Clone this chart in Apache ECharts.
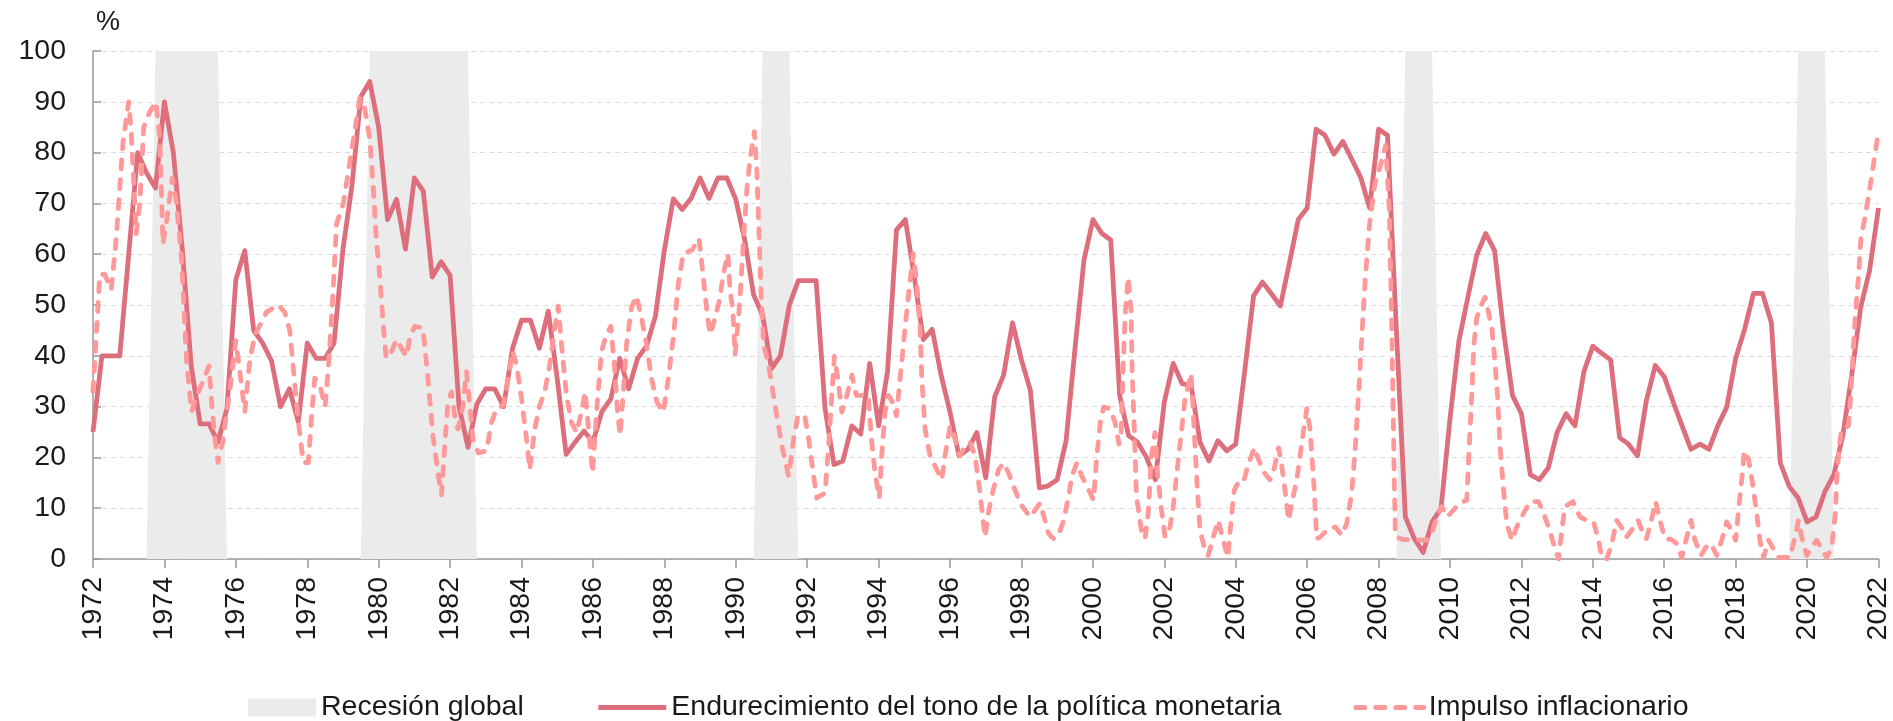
<!DOCTYPE html>
<html lang="es">
<head>
    <meta charset="UTF-8">
    <title>Endurecimiento de la política monetaria e impulso inflacionario</title>
    <script src="https://cdn.jsdelivr.net/npm/echarts@6.0.0/dist/echarts.min.js"></script>
    <style>
        html, body { margin: 0; padding: 0; background: #fff; }
        #chart { width: 1893px; height: 721px; }
    </style>
</head>
<body>
<div id="chart"></div>
<script>
// Trimestres 1972T1 - 2022T1
const quarters = [];
for (let y = 1972; y <= 2022; y += 0.25) quarters.push(y);

// Endurecimiento del tono de la política monetaria (trimestral, %)
const tono = [
    25, 40, 40, 40,
    60, 80, 76, 73,
    90, 80, 61, 38,
    26.6, 26.6, 23, 29.6,
    55, 60.7, 45, 42.5,
    39, 30, 33.5, 27,
    42.5, 39.5, 39.5, 42.5,
    61, 73.4, 91, 94,
    85, 66.8, 70.8, 61,
    75, 72.4, 55.5, 58.5,
    55.8, 30, 22, 30.5,
    33.5, 33.5, 30, 41.5,
    47, 47, 41.5, 48.8,
    35.5, 20.6, 23, 25.2,
    23, 29, 31.5, 39.5,
    33.5, 39.5, 41.9, 47.8,
    60.8, 70.9, 68.8, 71,
    75, 71, 75, 75,
    70.8, 62.8, 52, 48,
    37.5, 40, 50, 54.8,
    54.8, 54.8, 29.6, 18.6,
    19.3, 26.2, 24.6, 38.5,
    26.2, 36.9, 64.8, 66.8,
    55.5, 43.2, 45.2, 36.2,
    28.9, 20.3, 21.6, 24.9,
    16, 31.9, 36.2, 46.5,
    39.2, 33.2, 14, 14.4,
    15.6, 23.3, 41.5, 58.8,
    66.8, 64.1, 62.8, 32.2,
    24.3, 23, 20, 15.6,
    30.9, 38.5, 34.5, 34.2,
    23, 19.3, 23.3, 21.3,
    22.6, 36.9, 51.8, 54.5,
    52.2, 49.8, 58.1, 66.8,
    69.1, 84.6, 83.4, 79.7,
    82.2, 78.7, 75.1, 69.1,
    84.6, 83.4, 45, 8.3,
    4, 1.3, 7.3, 10,
    27.6, 42.9, 51.5, 59.8,
    64.1, 60.7, 44.9, 32.2,
    28.6, 16.6, 15.6, 17.9,
    24.9, 28.6, 26.2, 36.9,
    41.9, 40.5, 39.2, 23.9,
    22.6, 20.3, 31.2, 38.1,
    35.9, 30.9, 26.2, 21.6,
    22.6, 21.6, 26.2, 29.9,
    39.5, 45.2, 52.3, 52.3,
    46.5, 18.9, 14.3, 12,
    7.3, 8.3, 13.3, 16.6,
    24.3, 36.2, 49.5, 56.8,
    69.1
];

// Impulso inflacionario (fechas y valores, %)
const inflYears = [
    1972.0, 1972.19, 1972.33, 1972.51, 1972.65, 1972.84, 1973.0, 1973.07, 1973.21, 1973.31,
    1973.42, 1973.59, 1973.76, 1973.87, 1973.96, 1974.07, 1974.22, 1974.34, 1974.48, 1974.62,
    1974.76, 1974.9, 1975.08, 1975.25, 1975.32, 1975.41, 1975.5, 1975.63, 1975.83, 1976.0,
    1976.11, 1976.25, 1976.39, 1976.53, 1976.86, 1977.19, 1977.37, 1977.51, 1977.61, 1977.75,
    1977.89, 1978.03, 1978.12, 1978.21, 1978.36, 1978.5, 1978.59, 1978.71, 1978.82, 1979.01,
    1979.28, 1979.47, 1979.61, 1979.75, 1979.84, 1979.93, 1980.03, 1980.12, 1980.21, 1980.36,
    1980.5, 1980.64, 1980.78, 1980.87, 1981.01, 1981.24, 1981.38, 1981.52, 1981.66, 1981.76,
    1981.85, 1981.94, 1982.04, 1982.13, 1982.22, 1982.36, 1982.46, 1982.55, 1982.64, 1982.79,
    1983.02, 1983.16, 1983.3, 1983.49, 1983.63, 1983.75, 1983.86, 1984.0, 1984.14, 1984.23,
    1984.37, 1984.51, 1984.65, 1984.79, 1984.93, 1985.03, 1985.12, 1985.26, 1985.4, 1985.54,
    1985.68, 1985.78, 1985.87, 1985.99, 1986.1, 1986.24, 1986.38, 1986.5, 1986.6, 1986.69,
    1986.76, 1986.85, 1986.94, 1987.08, 1987.22, 1987.36, 1987.5, 1987.64, 1987.79, 1987.97,
    1988.11, 1988.25, 1988.39, 1988.53, 1988.77, 1988.97, 1989.09, 1989.19, 1989.28, 1989.42,
    1989.56, 1989.65, 1989.78, 1989.84, 1989.92, 1989.98, 1990.06, 1990.12, 1990.21, 1990.31,
    1990.4, 1990.52, 1990.59, 1990.64, 1990.71, 1990.78, 1990.92, 1991.1, 1991.29, 1991.48,
    1991.62, 1991.74, 1991.93, 1992.04, 1992.18, 1992.27, 1992.5, 1992.6, 1992.69, 1992.76,
    1992.86, 1992.97, 1993.11, 1993.25, 1993.38, 1993.57, 1993.71, 1993.8, 1993.9, 1994.02,
    1994.08, 1994.18, 1994.27, 1994.39, 1994.5, 1994.6, 1994.74, 1994.86, 1994.97, 1995.07,
    1995.16, 1995.21, 1995.3, 1995.44, 1995.63, 1995.77, 1995.86, 1996.0, 1996.14, 1996.28,
    1996.42, 1996.56, 1996.7, 1996.84, 1996.98, 1997.07, 1997.21, 1997.36, 1997.5, 1997.64,
    1997.78, 1997.96, 1998.24, 1998.38, 1998.52, 1998.66, 1998.76, 1998.9, 1999.04, 1999.18,
    1999.32, 1999.41, 1999.55, 1999.69, 1999.83, 2000.02, 2000.11, 2000.21, 2000.3, 2000.48,
    2000.62, 2000.73, 2000.79, 2000.85, 2000.91, 2000.99, 2001.07, 2001.1, 2001.16, 2001.22,
    2001.36, 2001.46, 2001.55, 2001.64, 2001.74, 2001.81, 2001.91, 2002.02, 2002.16, 2002.25,
    2002.35, 2002.49, 2002.58, 2002.67, 2002.75, 2002.81, 2002.91, 2003.0, 2003.12, 2003.23,
    2003.37, 2003.51, 2003.65, 2003.78, 2003.87, 2003.96, 2004.07, 2004.21, 2004.34, 2004.52,
    2004.64, 2004.81, 2004.96, 2005.08, 2005.2, 2005.29, 2005.38, 2005.48, 2005.57, 2005.71,
    2005.85, 2005.99, 2006.08, 2006.18, 2006.27, 2006.36, 2006.6, 2006.79, 2006.97, 2007.11,
    2007.25, 2007.35, 2007.44, 2007.53, 2007.63, 2007.75, 2007.9, 2008.05, 2008.2, 2008.3,
    2008.36, 2008.41, 2008.44, 2008.47, 2008.5, 2008.69, 2008.97, 2009.35, 2009.49, 2009.63,
    2009.77, 2009.93, 2010.09, 2010.28, 2010.47, 2010.54, 2010.61, 2010.67, 2010.75, 2010.89,
    2010.98, 2011.07, 2011.17, 2011.26, 2011.33, 2011.4, 2011.5, 2011.59, 2011.73, 2011.87,
    2012.06, 2012.24, 2012.48, 2012.62, 2012.76, 2012.9, 2013.04, 2013.13, 2013.22, 2013.44,
    2013.64, 2013.83, 2014.02, 2014.16, 2014.25, 2014.39, 2014.53, 2014.67, 2014.8, 2014.94,
    2015.08, 2015.27, 2015.41, 2015.5, 2015.64, 2015.76, 2015.88, 2016.02, 2016.21, 2016.35,
    2016.49, 2016.63, 2016.75, 2016.86, 2017.03, 2017.16, 2017.31, 2017.47, 2017.61, 2017.75,
    2017.89, 2018.0, 2018.09, 2018.17, 2018.24, 2018.36, 2018.47, 2018.59, 2018.68, 2018.78,
    2018.92, 2019.06, 2019.2, 2019.52, 2019.66, 2019.76, 2019.85, 2019.99, 2020.13, 2020.27,
    2020.41, 2020.55, 2020.69, 2020.79, 2020.83, 2020.9, 2020.97, 2021.16, 2021.23, 2021.3,
    2021.36, 2021.44, 2021.51, 2021.61, 2021.72, 2021.81, 2021.91, 2022.0
];
const inflValues = [
    33, 56, 56, 53, 63, 82, 90, 84, 64, 70,
    85, 88, 90, 83, 62, 67, 75, 70, 59, 39,
    29, 32, 35, 38, 31, 24, 19, 23, 33, 43,
    37, 29, 39, 44, 48.6, 50, 48.6, 45, 37.5, 27,
    19, 19, 28, 35.6, 34, 30, 37.5, 51, 66, 70,
    82, 90.7, 88.7, 82.7, 74, 63.5, 55.5, 46.8, 39.5, 40.9,
    43.2, 41.5, 39.9, 43.5, 45.8, 45.5, 35.5, 24.3, 17, 12.6,
    22.3, 30.9, 32.9, 28.2, 25.6, 30.2, 36.9, 30.2, 23.6, 20.9,
    21.3, 26.9, 29.6, 30.2, 35.5, 40.9, 38.2, 31.6, 23.6, 17.6,
    25.6, 30.2, 32.9, 38.2, 45.5, 49.8, 42.2, 32.2, 26.9, 24.9,
    28.9, 32.9, 26.2, 16.9, 28.9, 40.9, 44.2, 45.8, 38.2, 28.9,
    24.3, 32.9, 42.2, 49.5, 51.8, 47.5, 42.2, 35.5, 30.9, 28.9,
    35.5, 43.5, 54.2, 60.1, 60.8, 63.1, 55.5, 48.8, 44.2, 47.5,
    51.5, 56.1, 60.1, 52.8, 48.8, 40.2, 46.2, 51.5, 62.1, 72.8,
    78.7, 84.1, 76.7, 66.1, 52.2, 42.2, 38.2, 30.2, 22.3, 16.3,
    23.6, 28.2, 28.2, 23.6, 16.3, 12, 13, 22.3, 32.2, 39.9,
    35.5, 28.9, 32.2, 36.2, 32.2, 32.2, 32.2, 23.6, 16.9, 12,
    19.6, 28.9, 32.2, 30.9, 28.2, 35.5, 45.5, 53.5, 60.1, 54.2,
    45.5, 35.5, 25.6, 20.3, 17.6, 15.6, 20.3, 26.2, 23.6, 20.3,
    22.3, 22.9, 20.3, 13, 4.3, 9, 13.6, 17.6, 18.9, 16.9,
    14.3, 11, 8.3, 9.6, 11, 7.6, 5, 4, 4.7, 7.6,
    12.3, 16.3, 18.9, 16.3, 14.3, 11.6, 20.3, 26.9, 29.9, 29.6,
    26.9, 22.6, 24.9, 38.2, 48.8, 55.5, 48.8, 36.9, 25.6, 12.3,
    5.6, 4, 9, 20.3, 24.9, 16.9, 10.3, 4.3, 6.3, 10.3,
    16.9, 25.6, 31.6, 34.2, 36.5, 28.9, 15.6, 5.6, 2.3, 0.7,
    4.3, 7.6, 3.7, 0.3, 7.6, 13.6, 15, 15, 18.3, 21.9,
    19.6, 16.9, 15.6, 17.9, 21.9, 18.3, 13.6, 7.6, 11, 15.6,
    22.9, 29.6, 25.6, 15.6, 4, 4.3, 6, 6.3, 4.7, 7,
    13, 22.3, 32.2, 43.5, 55.5, 66, 74, 77.4, 81.4, 68.8,
    48.8, 28.9, 15.6, 5, 4.3, 3.8, 3.8, 3.7, 5, 8.3,
    10.3, 8.3, 9.6, 11, 11.6, 22.3, 32.2, 42.2, 47.5, 50.2,
    51.5, 48.8, 45.5, 38.9, 32.2, 22.3, 13.6, 7, 3.7, 6.3,
    9, 11.3, 11.3, 9, 6.3, 3, 0, 5.6, 10.3, 11.3,
    8.3, 7.6, 7.3, 3.7, 0.3, 0, 3, 7.6, 6.3, 4.3,
    5.6, 7.6, 5, 4, 7.6, 11.3, 7.6, 4, 3.8, 3,
    0.3, 4.3, 7.6, 3.7, 0.7, 2.3, 3, 0.7, 3.7, 7.3,
    5.6, 3.7, 10.3, 15.6, 21.3, 19.6, 15, 9, 3.7, 0.3,
    3.7, 2, 0.3, 0.3, 4.3, 7.6, 4.3, 0.7, 2.3, 3.7,
    2, 0.3, 2.3, 9, 15.6, 22.3, 25.6, 26.2, 32.9, 42.2,
    48.8, 55.5, 63.5, 66.8, 71.4, 75.4, 80, 84.2
];

// Recesiones globales: primer y último trimestre
const recStart = [1973.75, 1979.75, 1990.75, 2008.75, 2019.75];
const recEnd = [1975.5, 1982.5, 1991.5, 2009.5, 2020.5];

const recData = [];
recStart.forEach((s, i) => {
    recData.push([s - 0.25, 0], [s, 100], [recEnd[i], 100], [recEnd[i] + 0.25, 0]);
});

const tonoData = quarters.map((q, i) => [q, tono[i]]);
const inflData = inflYears.map((y, i) => [y, inflValues[i]]);

const FONT = "'Liberation Sans', Arial, sans-serif";
const TXT = '#1a1a1a';
const SOLID = '#DD6E7B';
const DASHED = '#FF9999';
const GRAY = '#EBEBEB';
const DASH = [9, 11];

const chart = echarts.init(document.getElementById('chart'));
chart.setOption({
    animation: false,
    textStyle: { fontFamily: FONT, color: TXT },
    title: {
        text: '%',
        left: 96,
        top: 9,
        padding: 0,
        textStyle: { fontFamily: FONT, fontSize: 27, fontWeight: 'normal', color: TXT }
    },
    grid: { left: 93, right: 13, top: 51, bottom: 162 },
    legend: {
        left: 243,
        top: 688,
        itemWidth: 68,
        itemHeight: 18,
        itemGap: 72,
        textStyle: { fontFamily: FONT, fontSize: 28.5, color: TXT },
        data: [
            { name: 'Recesión global', icon: 'rect', itemStyle: { color: GRAY, opacity: 1 } },
            {
                name: 'Endurecimiento del tono de la política monetaria',
                itemStyle: { opacity: 0 },
                lineStyle: { color: SOLID, width: 5, type: 'solid' }
            },
            {
                name: 'Impulso inflacionario',
                itemStyle: { opacity: 0 },
                lineStyle: { color: DASHED, width: 5, type: DASH, cap: 'round' }
            }
        ]
    },
    xAxis: {
        type: 'value',
        min: 1972,
        max: 2022,
        interval: 2,
        splitLine: { show: false },
        axisLine: { lineStyle: { color: '#9a9a9a', width: 1.5 } },
        axisTick: { length: 9, lineStyle: { color: '#9a9a9a', width: 1.5 } },
        axisLabel: {
            rotate: 90,
            margin: 18,
            fontSize: 28.5,
            fontFamily: FONT,
            color: TXT,
            formatter: v => String(v)
        }
    },
    yAxis: {
        type: 'value',
        min: 0,
        max: 100,
        interval: 10,
        axisLine: { show: true, lineStyle: { color: '#9a9a9a', width: 1.5 } },
        axisTick: { show: true, inside: true, length: 8, lineStyle: { color: '#9a9a9a', width: 1.5 } },
        axisLabel: { margin: 27, fontSize: 28.5, fontFamily: FONT, color: TXT },
        splitLine: { lineStyle: { color: '#dcdcdc', type: [5, 4], width: 1 } }
    },
    series: [
        {
            name: 'Recesión global',
            type: 'line',
            data: recData,
            symbol: 'none',
            lineStyle: { width: 0 },
            areaStyle: { color: GRAY, opacity: 1 },
            itemStyle: { color: GRAY },
            silent: true,
            z: 1
        },
        {
            name: 'Endurecimiento del tono de la política monetaria',
            type: 'line',
            data: tonoData,
            symbol: 'none',
            lineStyle: { color: SOLID, width: 4.8, join: 'round' },
            itemStyle: { color: SOLID },
            z: 3
        },
        {
            name: 'Impulso inflacionario',
            type: 'line',
            data: inflData,
            symbol: 'none',
            lineStyle: { color: DASHED, width: 4.8, type: DASH, cap: 'round', join: 'round' },
            itemStyle: { color: DASHED },
            z: 4
        }
    ]
});
</script>
</body>
</html>
